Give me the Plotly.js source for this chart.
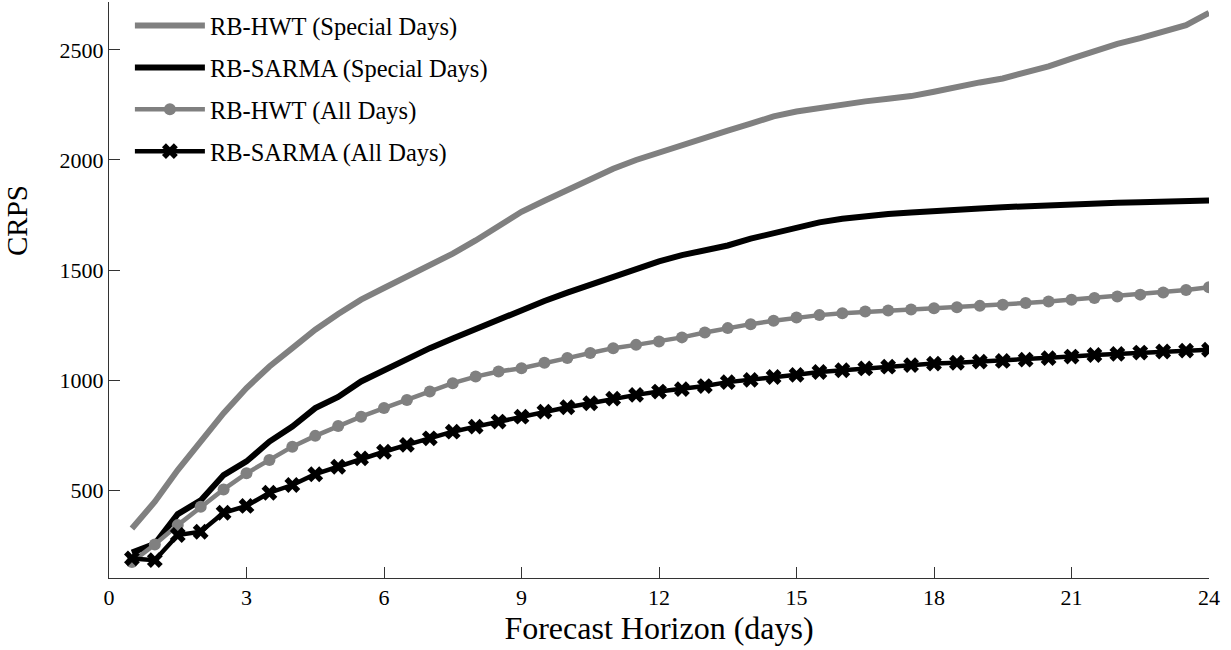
<!DOCTYPE html>
<html>
<head>
<meta charset="utf-8">
<script src="https://cdn.plot.ly/plotly-3.0.1.min.js"></script>
<style>html,body{margin:0;padding:0;background:#fff;}#chart{width:1231px;height:650px;}</style>
</head>
<body>
<div id="chart"></div>
<script>
const horizonDays = [0.5,1,1.5,2,2.5,3,3.5,4,4.5,5,5.5,6,6.5,7,7.5,8,8.5,9,9.5,10,10.5,11,11.5,12,12.5,13,13.5,14,14.5,15,15.5,16,16.5,17,17.5,18,18.5,19,19.5,20,20.5,21,21.5,22,22.5,23,23.5,24];

const hwtSpecial = [328,449,593,722,851,965,1063,1146,1230,1301,1366,1419,1470,1517,1575,1635,1700,1765,1815,1865,1915,1960,2000,2035,2070,2105,2133,2165,2198,2220,2237,2252,2266,2278,2290,2310,2333,2352,2370,2397,2425,2460,2497,2527,2553,2582,2612,2668];

const sarmaSpecial = [218,258,393,455,570,632,722,790,874,925,995,1045,1100,1146,1190,1233,1278,1320,1360,1398,1435,1470,1507,1540,1568,1590,1612,1643,1670,1692,1717,1733,1746,1755,1762,1770,1775,1780,1786,1791,1796,1800,1803,1806,1808,1810,1812,1816];

const hwtAll = [176,255,343,426,505,578,639,699,748,793,835,874,911,949,987,1017,1040,1055,1080,1101,1124,1146,1161,1176,1195,1217,1237,1255,1270,1285,1296,1305,1312,1317,1321,1327,1332,1338,1343,1351,1358,1366,1374,1381,1389,1399,1410,1422];

const sarmaAll = [192,184,298,313,399,430,490,525,574,608,646,676,707,737,767,790,813,835,858,878,896,917,934,949,960,974,992,1002,1015,1025,1038,1046,1054,1062,1069,1076,1080,1085,1088,1094,1101,1108,1115,1120,1126,1131,1135,1139];

const seriesNames = ["RB-HWT (Special Days)","RB-SARMA (Special Days)","RB-HWT (All Days)","RB-SARMA (All Days)"];
const xTicks = [0,3,6,9,12,15,18,21,24];
const yTicks = [500,1000,1500,2000,2500];

const GRAY = "#808080";
const BLACK = "#000000";
const FONT = "'Liberation Serif', 'Times New Roman', Times, serif";

const traces = [
  {x: horizonDays, y: hwtSpecial, name: seriesNames[0], mode: "lines", legendgroup: "a",
   line: {color: GRAY, width: 6}},
  {x: horizonDays, y: sarmaSpecial, name: seriesNames[1], mode: "lines", legendgroup: "b",
   line: {color: BLACK, width: 6}},
  {x: horizonDays, y: hwtAll, name: seriesNames[2], mode: "lines+markers", legendgroup: "c",
   line: {color: GRAY, width: 4.5}, marker: {symbol: "circle", size: 12, color: GRAY}},
  {x: horizonDays, y: sarmaAll, name: seriesNames[3], mode: "lines+markers", legendgroup: "d",
   line: {color: BLACK, width: 4.5}, marker: {symbol: "x", size: 14, color: BLACK}}
];

const layout = {
  width: 1231, height: 650,
  margin: {l: 109, r: 22, t: 2, b: 72},
  paper_bgcolor: "#fff", plot_bgcolor: "#fff",
  font: {family: FONT, color: "#000", size: 22},
  showlegend: true,
  legend: {x: 0.019, y: 0.998, xanchor: "left", yanchor: "top",
    bgcolor: "rgba(0,0,0,0)", borderwidth: 0, font: {family: FONT, size: 24.5, color: "#000"},
    itemwidth: 70, traceorder: "grouped", tracegroupgap: 7},
  xaxis: {range: [0, 24], tickvals: xTicks, ticktext: xTicks.map(String),
    ticks: "inside", ticklen: 11, tickwidth: 1, tickcolor: "#333",
    showline: true, linecolor: "#333", linewidth: 1, showgrid: false, zeroline: false,
    tickfont: {family: FONT, size: 22, color: "#000"},
    title: {text: "Forecast Horizon (days)", font: {family: FONT, size: 32, color: "#000"}, standoff: 6}},
  yaxis: {range: [103, 2717], tickvals: yTicks, ticktext: yTicks.map(String),
    ticks: "inside", ticklen: 11, tickwidth: 1, tickcolor: "#333",
    showline: true, linecolor: "#333", linewidth: 1, showgrid: false, zeroline: false,
    tickfont: {family: FONT, size: 22, color: "#000"}},
  annotations: [{text: "CRPS", xref: "paper", yref: "paper", x: -0.0835, y: 0.62,
    xanchor: "center", yanchor: "middle", textangle: -90, showarrow: false,
    font: {family: FONT, size: 29, color: "#000"}}]
};

Plotly.newPlot("chart", traces, layout, {displayModeBar: false, staticPlot: true});
</script>
</body>
</html>
